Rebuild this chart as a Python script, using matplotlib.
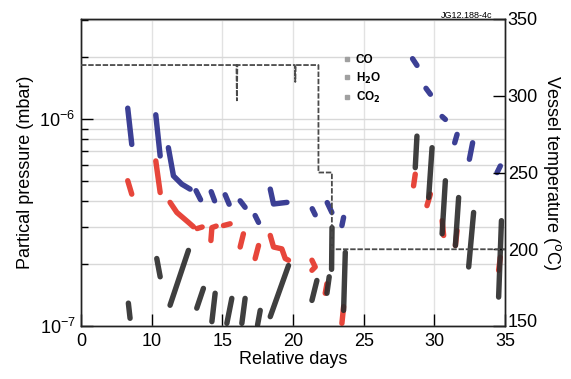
import numpy as np
import matplotlib
matplotlib.use("Agg")
import matplotlib.pyplot as plt
import matplotlib.transforms as mtransforms
from matplotlib.lines import Line2D

plt.rcParams["font.family"] = ["Liberation Sans", "DejaVu Sans"]

# Partial pressure traces (mbar), one list of (day, pressure) points per pump-down run
co_runs = [
    [(6.61, 1.13e-6), (7.18, 7.55e-7)],
    [(10.29, 1.05e-6), (10.60, 6.64e-7)],
    [(11.18, 7.28e-7), (11.54, 5.32e-7), (12.13, 4.85e-7), (12.72, 4.59e-7)],
    [(13.14, 4.51e-7), (13.46, 4.08e-7)],
    [(14.21, 4.46e-7), (14.45, 4.03e-7)],
    [(15.20, 4.31e-7), (15.48, 3.88e-7)],
    [(16.26, 4.03e-7), (16.61, 3.75e-7)],
    [(17.32, 3.42e-7), (17.56, 3.17e-7)],
    [(18.39, 4.59e-7), (18.62, 3.89e-7), (19.57, 3.96e-7)],
    [(21.36, 3.69e-7), (21.57, 3.45e-7)],
    [(22.42, 3.95e-7), (22.75, 3.54e-7)],
    [(23.58, 3.35e-7), (23.46, 3.06e-7)],
    [(28.46, 1.96e-6), (28.77, 1.82e-6)],
    [(29.41, 1.41e-6), (29.72, 1.32e-6)],
    [(30.55, 1.03e-6), (30.78, 9.97e-7)],
    [(31.61, 8.44e-7), (31.44, 7.69e-7)],
    [(32.71, 7.69e-7), (32.48, 6.40e-7)],
    [(34.67, 5.94e-7), (34.44, 5.52e-7)],
]

h2o_runs = [
    [(6.61, 5.04e-7), (7.18, 4.34e-7)],
    [(10.29, 6.28e-7), (10.60, 4.42e-7)],
    [(11.30, 3.96e-7), (11.78, 3.54e-7), (12.60, 3.17e-7), (12.95, 3.02e-7)],
    [(13.22, 2.96e-7), (13.57, 3.01e-7)],
    [(14.19, 2.59e-7), (14.26, 2.99e-7), (14.56, 3.04e-7)],
    [(15.08, 3.06e-7), (15.55, 3.12e-7)],
    [(16.49, 2.79e-7), (16.26, 2.41e-7)],
    [(17.56, 2.45e-7), (17.32, 2.12e-7)],
    [(18.39, 2.74e-7), (18.62, 2.41e-7), (19.21, 2.36e-7), (19.45, 2.12e-7), (19.68, 2.08e-7)],
    [(21.34, 2.08e-7), (21.57, 1.93e-7), (21.34, 1.86e-7)],
    [(22.40, 1.60e-7), (22.28, 1.44e-7)],
    [(23.58, 1.24e-7), (23.46, 1.03e-7)],
    [(28.65, 5.42e-7), (28.53, 4.76e-7)],
    [(29.72, 4.34e-7), (29.48, 3.82e-7)],
    [(30.55, 3.23e-7), (30.66, 2.74e-7)],
    [(31.61, 2.89e-7), (31.49, 2.45e-7)],
    [(34.67, 2.15e-7), (34.55, 1.86e-7)],
]

co2_runs = [
    [(6.70, 1.29e-7), (6.94, 1.09e-7)],
    [(10.36, 2.12e-7), (10.60, 1.73e-7)],
    [(12.60, 2.32e-7), (11.30, 1.26e-7)],
    [(13.66, 1.52e-7), (13.19, 1.22e-7)],
    [(14.49, 1.44e-7), (14.26, 1.05e-7)],
    [(15.67, 1.36e-7), (15.32, 1.03e-7)],
    [(16.61, 1.36e-7), (16.38, 1.03e-7)],
    [(17.68, 1.19e-7), (17.49, 1.01e-7)],
    [(19.68, 1.96e-7), (18.39, 1.11e-7)],
    [(21.69, 1.66e-7), (21.34, 1.33e-7)],
    [(22.56, 1.73e-7), (22.40, 1.44e-7)],
    [(22.76, 2.99e-7), (22.73, 1.88e-7)],
    [(23.70, 2.27e-7), (23.58, 1.19e-7)],
    [(28.77, 8.28e-7), (28.65, 5.83e-7)],
    [(29.84, 7.28e-7), (29.60, 4.18e-7)],
    [(30.78, 5.04e-7), (30.55, 2.79e-7)],
    [(31.72, 4.18e-7), (31.49, 2.45e-7)],
    [(32.78, 3.54e-7), (32.43, 1.93e-7)],
    [(34.75, 3.23e-7), (34.55, 1.38e-7)],
]

# Vessel temperature (deg C)
temp_days = [0.0, 16.00, 16.03, 16.06, 20.13, 20.16, 20.19, 21.80, 21.80, 22.75, 22.75, 35.0]
temp_vals = [320, 320, 297, 320, 320, 309, 320, 320, 250, 250, 200, 200]

x_ticks = [0, 10, 15, 20, 25, 30, 35]
temp_ticks = [150, 200, 250, 300, 350]

series_style = [
    ("CO", co_runs, "#2b2f8c"),
    ("H$_\\mathbf{2}$O", h2o_runs, "#e5362a"),
    ("CO$_\\mathbf{2}$", co2_runs, "#2e2e2e"),
]


def fwd(x):
    x = np.asarray(x, dtype=float)
    return np.where(x < 10, x / 2.0, x - 5.0)


def inv(u):
    u = np.asarray(u, dtype=float)
    return np.where(u < 5, u * 2.0, u + 5.0)


fig = plt.figure(figsize=(5.71, 3.79), dpi=100)
ax = fig.add_axes([0.1419, 0.1398, 0.7425, 0.8101])

ax.set_xscale("function", functions=(fwd, inv))
ax.set_yscale("log")
ax.set_xlim(0, 35)
ax.set_ylim(1e-7, 3.05e-6)

ax.grid(True, which="both", axis="y", color="#d8d8d8", lw=1.0, zorder=0)
ax.grid(True, which="major", axis="x", color="#e2e2e2", lw=1.0, zorder=0)

for name, runs, color in series_style:
    for run in runs:
        d = [p[0] for p in run]
        v = [p[1] for p in run]
        ax.plot(d, v, color=color, lw=3.9, solid_capstyle="round",
                solid_joinstyle="round", alpha=0.92, zorder=3)

ax.set_xticks(x_ticks)
ax.set_xticklabels([str(t) for t in x_ticks])
ax.tick_params(axis="both", which="major", direction="in", length=8.5,
               width=1.0, labelsize=13, pad=4)
ax.tick_params(axis="x", which="major", pad=5)
ax.tick_params(axis="y", which="minor", direction="in", length=5, width=1.0,
               labelleft=False)
ax.tick_params(axis="x", which="minor", bottom=False)
ax.set_xlabel("Relative days", fontsize=13, labelpad=1)
ax.set_ylabel("Partical pressure (mbar)", fontsize=13, labelpad=4)

ax2 = ax.twinx()
ax2.set_ylim(150, 350)
ax2.set_yticks(temp_ticks)
ax2.tick_params(axis="y", direction="in", length=8.5, width=1.0,
                labelsize=13, pad=2)
ax2.plot(temp_days, temp_vals, color="#4a4a4a", lw=1.3,
         linestyle=(0, (3, 1)), zorder=4)
ax2.set_ylabel("Vessel temperature ($^{\\mathrm{o}}$C)", fontsize=13,
               rotation=-90, labelpad=18)

# lift the lowest temperature label clear of the day labels
fig.canvas.draw()
lbl = ax2.get_yticklabels()[0]
lbl.set_transform(lbl.get_transform() +
                  mtransforms.ScaledTranslation(0, 4 / 72, fig.dpi_scale_trans))

for a in (ax, ax2):
    for s in a.spines.values():
        s.set_linewidth(1.0)
        s.set_color("#222222")

handles = [Line2D([], [], color="#a0a0a0", marker="s", markersize=2.5, lw=0)
           for _ in series_style]
leg = ax.legend(handles, [s[0] for s in series_style], loc="upper left",
                bbox_to_anchor=(0.61, 0.90), frameon=False, fontsize=8.5,
                handlelength=0.5, handletextpad=0.45, labelspacing=0.35,
                borderaxespad=0.0)
for t in leg.get_texts():
    t.set_fontweight("bold")

fig.text(0.863, 0.952, "JG12.188-4c", fontsize=6.5, ha="right", va="baseline")

fig.savefig("out.png", dpi=100, facecolor="white")
